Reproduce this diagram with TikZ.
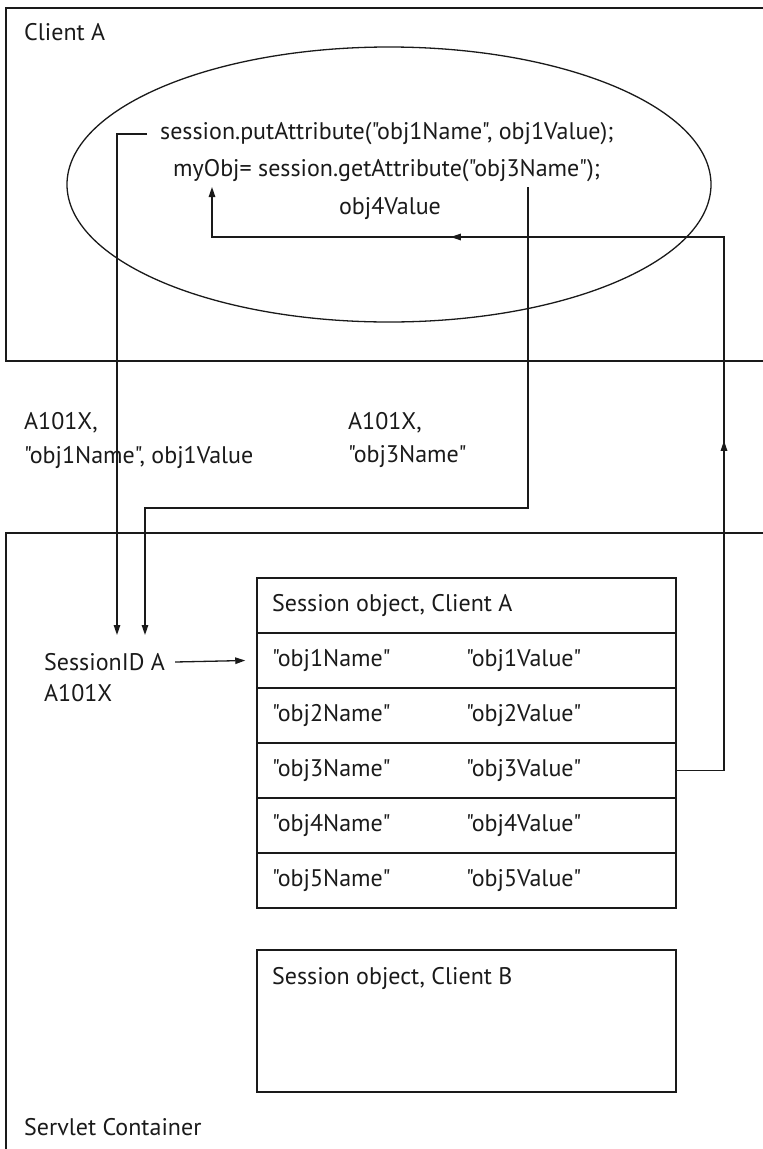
\documentclass[tikz,border=0pt]{standalone}
\usepackage{fontspec}
\setmainfont{PT Sans}[Ligatures=TeXOff]
\usetikzlibrary{arrows.meta,shapes.geometric,decorations.markings}
\definecolor{ink}{HTML}{1A1A1A}
\tikzset{
  frame/.style={draw=ink, line width=1.7pt},
  conn/.style={draw=ink, line width=1.3pt},
  tip/.style={-{Triangle[length=10pt,width=6.5pt]}},
  lbl/.style={anchor=west, inner sep=0pt, text=ink, font=\fontsize{24}{30}\selectfont},
  clbl/.style={lbl, anchor=center},
  rowbox/.style={draw=ink, line width=1.5pt, minimum width=419pt, minimum height=55pt, inner sep=0pt},
}
\begin{document}
\begin{tikzpicture}[x=1pt, y=-1pt]
\useasboundingbox (0,0) rectangle (763,1149);

% Client A region and servlet container
\draw[frame] (775,8) -- (6,8) -- (6,361) -- (775,361);
\draw[frame] (775,533) -- (6,533) -- (6,1160);
\node[lbl] (clientA) at (24,32) {Client A};
\node[lbl] (servlet) at (24,1127) {Servlet Container};

% client code
\node[draw=ink, line width=1.3pt, ellipse, minimum width=644pt, minimum height=275pt] (oval) at (389,184.5) {};
\node[lbl] (c1) at (160,134) {session.putAttribute("obj1Name", obj1Value);};
\node[lbl] (c2) at (173,171) {myObj= session.getAttribute("obj3Name");};
\node[clbl] (c3) at (390,209) {obj4Value};

% request labels
\node[lbl] (req1a) at (24,423) {A101X,};
\node[lbl] (req1b) at (24,457) {"obj1Name", obj1Value};
\node[lbl] (req3a) at (348,423) {A101X,};
\node[lbl] (req3b) at (348,457) {"obj3Name"};

% session id
\node[lbl] (sid) at (44,662) {SessionID A};
\node[lbl] (sidv) at (44,693) {A101X};

% session object table
\node[rowbox] (r0) at (466.5,605.5) {};
\node[rowbox] (r1) at (466.5,660.5) {};
\node[rowbox] (r2) at (466.5,715.5) {};
\node[rowbox] (r3) at (466.5,770.5) {};
\node[rowbox] (r4) at (466.5,825.5) {};
\node[rowbox] (r5) at (466.5,880.5) {};
\node[lbl] (hA) at (272,605.5) {Session object, Client A};
\foreach \i in {1,...,5} {
  \node[lbl] (n\i) at (272,605.5+55*\i) {"obj\i Name"};
  \node[lbl] (v\i) at (466,605.5+55*\i) {"obj\i Value"};
}

% session object of client B
\node[draw=ink, line width=1.5pt, minimum width=419pt, minimum height=142pt] (sB) at (466.5,1021) {};
\node[lbl] (hB) at (272,978) {Session object, Client B};

% connector end points
\coordinate (putIn) at (147,134);
\coordinate (putDn) at (117,635);
\coordinate (getOut) at (528,187);
\coordinate (getMid) at (145,508);
\coordinate (getDn) at (145,635);
\coordinate (retR) at (724,770.5);
\coordinate (retTop) at (724,237);
\coordinate (retEnd) at (212,187);

% putAttribute request
\draw[conn, tip] (putIn) -| (putDn);
% getAttribute request
\draw[conn, tip] (getOut) |- (getMid) -- (getDn);
% session id lookup
\draw[conn, tip] ([xshift=10pt]sid.east) -- ([xshift=-11pt]r1.west);
% value returned to the client
\draw[conn, tip, postaction={decorate},
  decoration={markings,
    mark=at position 377pt with {\arrow{Triangle[length=10pt,width=6.5pt]}},
    mark=at position 854pt with {\arrow{Triangle[length=10pt,width=6.5pt]}}}]
  (r3.east) -- (retR) -- (retTop) -| (retEnd);
\end{tikzpicture}
\end{document}
